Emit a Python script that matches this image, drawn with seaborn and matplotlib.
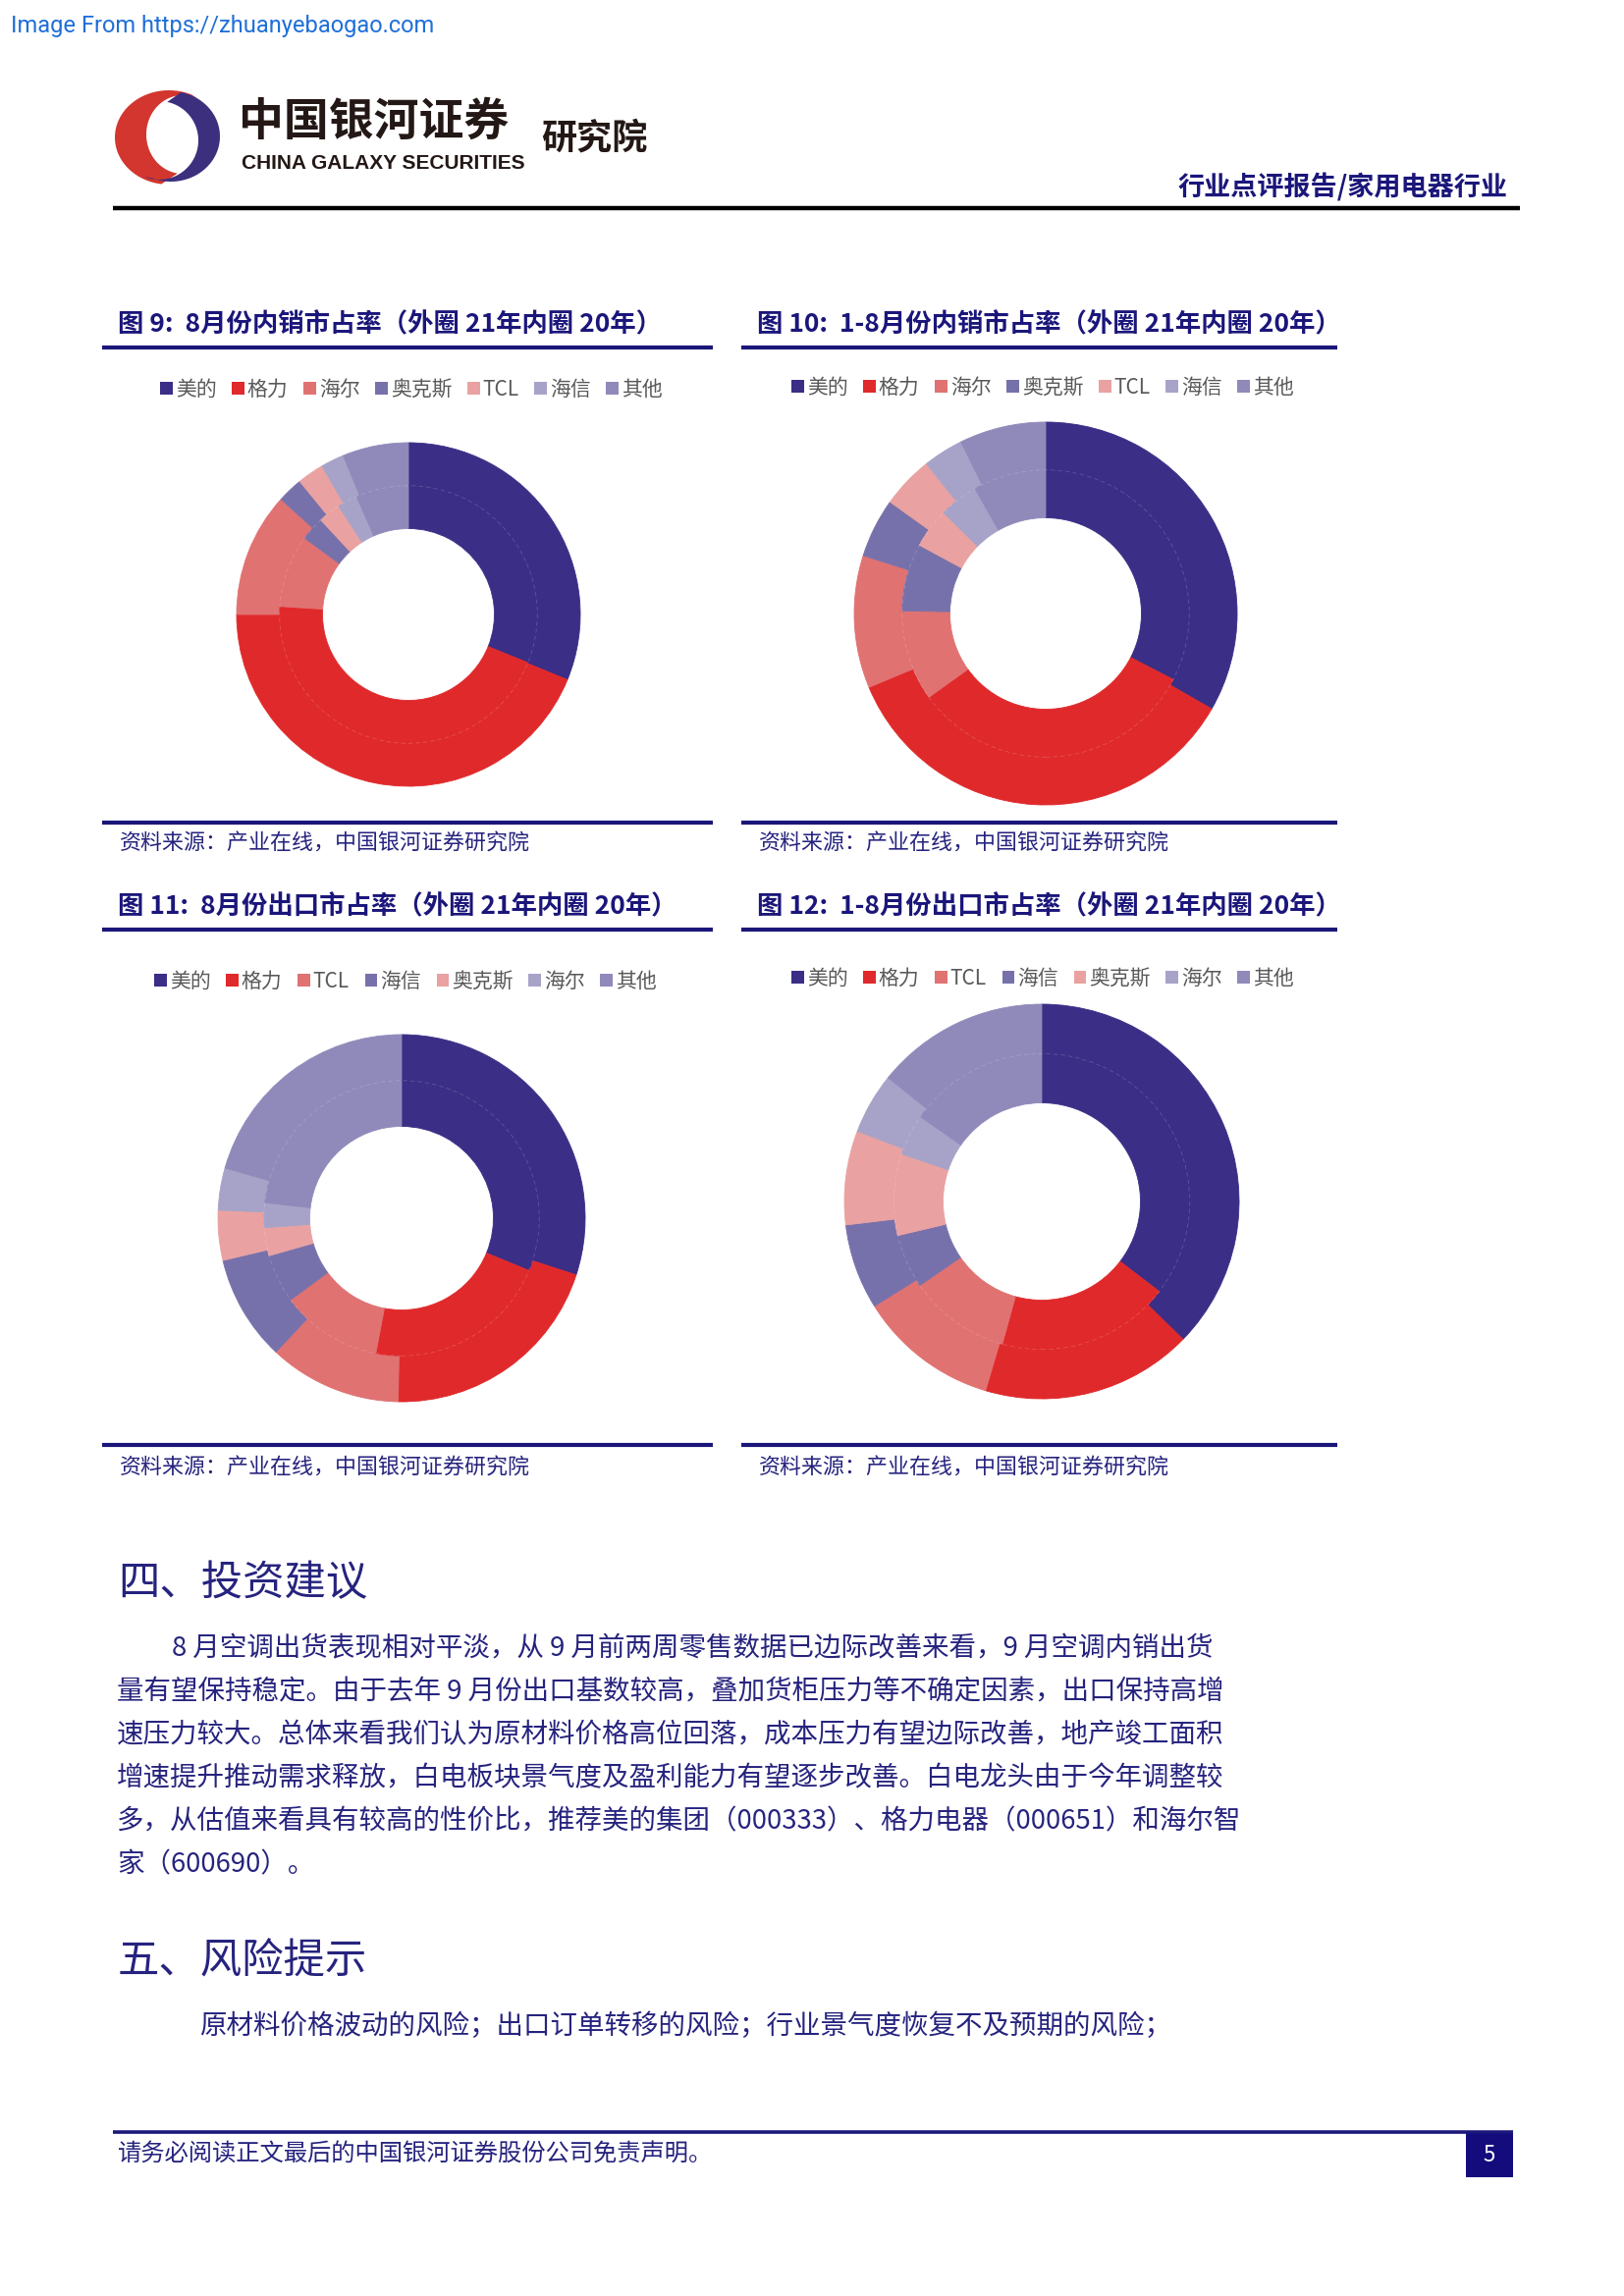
import numpy as np
import seaborn as sns
import matplotlib.pyplot as plt
from matplotlib.patches import Patch, Circle, Polygon, Rectangle
from matplotlib.lines import Line2D

# ---------------- data ----------------
# domestic sales: brand order of the first two charts
brands_dom = ['美的', '格力', '海尔', '奥克斯', 'TCL', '海信', '其他']
# export: brand order of the last two charts
brands_exp = ['美的', '格力', 'TCL', '海信', '奥克斯', '海尔', '其他']

# fig 9: August domestic share (%), outer ring 2021, inner ring 2020
aug_dom_21 = [31.2, 43.8, 11.7, 2.4, 2.5, 2.2, 6.2]
aug_dom_20 = [31.1, 44.9, 9.1, 3.0, 2.8, 2.5, 6.6]
# fig 10: Jan-Aug domestic share (%)
ytd_dom_21 = [33.3, 35.4, 11.2, 5.0, 4.4, 3.4, 7.3]
ytd_dom_20 = [32.6, 32.5, 10.2, 7.6, 4.5, 4.4, 8.2]
# fig 11: August export share (%)
aug_exp_21 = [30.0, 20.3, 11.7, 9.3, 4.4, 3.7, 20.6]
aug_exp_20 = [31.2, 21.8, 11.9, 5.7, 3.3, 2.9, 23.2]
# fig 12: Jan-Aug export share (%)
ytd_exp_21 = [37.3, 17.3, 11.5, 7.0, 7.7, 5.0, 14.2]
ytd_exp_20 = [35.4, 18.9, 11.1, 5.9, 8.9, 4.5, 15.3]

titles = ['图 9:  8月份内销市占率（外圈 21年内圈 20年）',
          '图 10:  1-8月份内销市占率（外圈 21年内圈 20年）',
          '图 11:  8月份出口市占率（外圈 21年内圈 20年）',
          '图 12:  1-8月份出口市占率（外圈 21年内圈 20年）']
source_txt = '资料来源：产业在线，中国银河证券研究院'

para_lines = ['8 月空调出货表现相对平淡，从 9 月前两周零售数据已边际改善来看，9 月空调内销出货',
              '量有望保持稳定。由于去年 9 月份出口基数较高，叠加货柜压力等不确定因素，出口保持高增',
              '速压力较大。总体来看我们认为原材料价格高位回落，成本压力有望边际改善，地产竣工面积',
              '增速提升推动需求释放，白电板块景气度及盈利能力有望逐步改善。白电龙头由于今年调整较',
              '多，从估值来看具有较高的性价比，推荐美的集团（000333）、格力电器（000651）和海尔智',
              '家（600690）。']
risk_line = '原材料价格波动的风险；出口订单转移的风险；行业景气度恢复不及预期的风险；'

# ---------------- style ----------------
sns.set_theme(style='white')
plt.rcParams['font.family'] = ['Noto Sans CJK SC', 'DejaVu Sans']

palette = sns.color_palette(['#3A2E86', '#E0292B', '#E07272', '#7771AB',
                             '#E9A2A1', '#A7A3C8', '#8F8ABA'])
navy = '#1B167A'
text_navy = '#26237E'

W, H = 1654, 2339
fig = plt.figure(figsize=(W / 100, H / 100), dpi=100)


def fx(x):
    return x / W


def fy(y):
    return 1 - y / H


def hline(x1, x2, y, lw, color):
    fig.add_artist(Line2D([fx(x1), fx(x2)], [fy(y), fy(y)], transform=fig.transFigure,
                          lw=lw, color=color, solid_capstyle='butt'))


# ---------------- page header ----------------
fig.text(fx(11), fy(26), 'Image From https://zhuanyebaogao.com', fontsize=17,
         color='#1F6FD8', va='center', ha='left', family=['Roboto', 'DejaVu Sans'])

# logo swoosh
lax = fig.add_axes([fx(110), fy(195), 125 / W, 110 / H])
lax.set_xlim(110, 235)
lax.set_ylim(195, 85)
lax.axis('off')
t1 = np.radians(np.linspace(65, 262, 80))
t2 = t1[::-1]
red = np.column_stack([np.r_[172 + 55 * np.cos(t1), 186 + 37 * np.cos(t2)],
                       np.r_[140 - 48 * np.sin(t1), 137 - 40 * np.sin(t2)]])
lax.add_patch(Polygon(red, closed=True, fc='#D2362E', ec='none'))
t3 = np.radians(np.linspace(78, -112, 80))
t4 = t3[::-1]
blue = np.column_stack([np.r_[174 + 50 * np.cos(t3), 162 + 40 * np.cos(t4)],
                        np.r_[139 - 46 * np.sin(t3), 143 - 40 * np.sin(t4)]])
lax.add_patch(Polygon(blue, closed=True, fc='#3B2F7E', ec='none'))

fig.text(fx(243), fy(125), '中国银河证券', fontsize=33, fontweight='bold', color='#231815',
         va='center', ha='left')
fig.text(fx(246), fy(167), 'CHINA GALAXY SECURITIES', fontsize=15, fontweight='bold',
         color='#231815', va='center', ha='left',
         family=['Liberation Sans Narrow', 'Liberation Sans', 'DejaVu Sans'])
fig.text(fx(551), fy(141), '研究院', fontsize=26, fontweight='bold', color='#231815',
         va='center', ha='left')
fig.text(fx(1536), fy(191), '行业点评报告/家用电器行业', fontsize=19.5, fontweight='bold',
         color=navy, va='center', ha='right')
hline(115, 1548, 212, 3.2, 'black')


# ---------------- the four donut charts ----------------
def donut(cx, cy, r, outer, inner):
    pad = 1.02
    ax = fig.add_axes([fx(cx - r * pad), fy(cy + r * pad), 2 * r * pad / W, 2 * r * pad / H])
    wo, _ = ax.pie(outer, radius=1.0, startangle=90, counterclock=False, colors=palette,
                   wedgeprops=dict(width=0.25))
    wi, _ = ax.pie(inner, radius=0.75, startangle=90, counterclock=False, colors=palette,
                   wedgeprops=dict(width=0.25))
    for w in wo + wi:
        w.set_edgecolor(w.get_facecolor())
        w.set_linewidth(0.6)
    ax.add_patch(Circle((0, 0), 0.75, fill=False, ec='white', lw=0.6,
                        ls=(0, (5, 4)), alpha=0.18))
    ax.set_xlim(-pad, pad)
    ax.set_ylim(-pad, pad)
    ax.set_aspect('equal')
    ax.axis('off')
    return ax


def panel(x_left, x_right, y_title, y_line, y_leg, leg_cx, cx, cy, r, y_bottom, y_src,
          title, labels, outer, inner):
    fig.text(fx(x_left + 16), fy(y_title), title, fontsize=19, fontweight='bold',
             color=navy, va='center', ha='left')
    hline(x_left, x_right, y_line, 3.0, navy)
    handles = [Patch(facecolor=c, edgecolor='none') for c in palette]
    fig.legend(handles, labels, loc='center', bbox_to_anchor=(fx(leg_cx), fy(y_leg)),
               ncol=7, frameon=False, fontsize=15, handlelength=0.6, handleheight=0.6,
               handletextpad=0.15, columnspacing=0.75, labelcolor='#595959',
               borderpad=0, borderaxespad=0)
    donut(cx, cy, r, outer, inner)
    hline(x_left, x_right, y_bottom, 3.0, navy)
    fig.text(fx(x_left + 18), fy(y_src), source_txt, fontsize=15.8, color=text_navy,
             va='center', ha='left')


panel(104, 726, 331, 354, 397, 419, 416, 626, 175, 838, 860,
      titles[0], brands_dom, aug_dom_21, aug_dom_20)
panel(755, 1362, 331, 354, 395, 1062, 1065, 625, 195, 838, 860,
      titles[1], brands_dom, ytd_dom_21, ytd_dom_20)
panel(104, 726, 924, 947, 1000, 413, 409, 1241, 187, 1472, 1496,
      titles[2], brands_exp, aug_exp_21, aug_exp_20)
panel(755, 1362, 924, 947, 997, 1062, 1061, 1224, 201, 1472, 1496,
      titles[3], brands_exp, ytd_exp_21, ytd_exp_20)

# ---------------- text section ----------------
fig.text(fx(120), fy(1613), '四、投资建议', fontsize=30.5, color=text_navy, va='center', ha='left')
y0, dy = 1680, 44
for i, line in enumerate(para_lines):
    x0 = 175 if i == 0 else 119
    fig.text(fx(x0), fy(y0 + i * dy), line, fontsize=19.8, color=text_navy,
             va='center', ha='left')
fig.text(fx(120), fy(1999), '五、风险提示', fontsize=30.5, color=text_navy, va='center', ha='left')
fig.text(fx(203), fy(2064), risk_line, fontsize=19.8, color=text_navy, va='center', ha='left')

# ---------------- footer ----------------
hline(115, 1541, 2172, 2.6, navy)
fig.add_artist(Rectangle((fx(1493), fy(2218)), 48 / W, 46 / H, transform=fig.transFigure,
                         fc='#140C7C', ec='none'))
fig.text(fx(1517), fy(2195), '5', fontsize=16, color='white', va='center', ha='center')
fig.text(fx(119), fy(2194), '请务必阅读正文最后的中国银河证券股份公司免责声明。', fontsize=17.5,
         color=text_navy, va='center', ha='left')

fig.savefig('out.png', dpi=100, facecolor='white')
